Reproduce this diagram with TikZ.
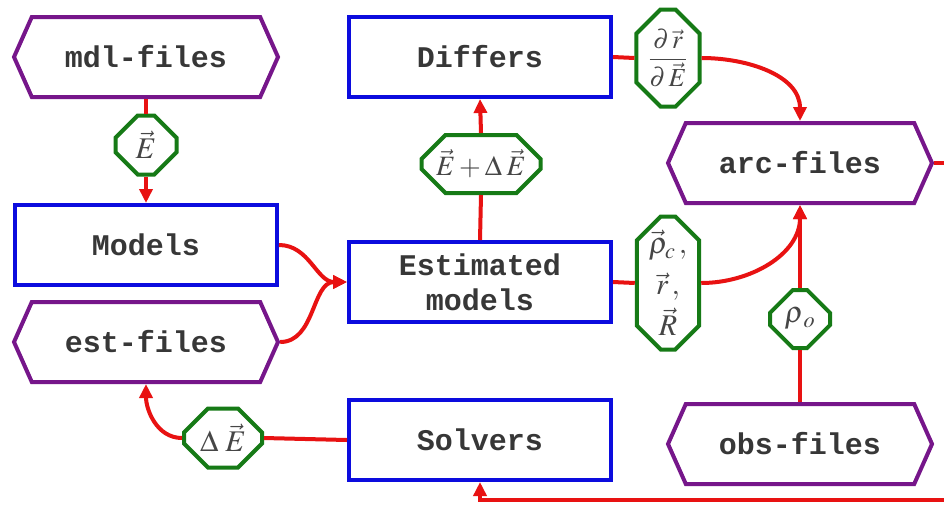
\documentclass[tikz,border=0pt]{standalone}
\usepackage{mathptmx}
\usepackage{fontspec}
\setmonofont{Liberation Mono}
\usetikzlibrary{shapes.symbols,shapes.misc,arrows.meta}
\definecolor{cblue}{RGB}{12,12,222}
\definecolor{cpurple}{RGB}{118,22,138}
\definecolor{cgreen}{RGB}{22,122,22}
\definecolor{cred}{RGB}{232,18,18}
\definecolor{ctext}{RGB}{55,55,55}
\definecolor{cmath}{RGB}{70,70,70}
\begin{document}
\begin{tikzpicture}[x=1pt,y=-1pt,
  box/.style={draw=cblue,line width=4pt,fill=white,minimum width=262pt,minimum height=80pt,inner sep=0pt,
    font=\ttfamily\bfseries\fontsize{30}{35}\selectfont,text=ctext,align=center},
  filebox/.style={signal,signal to=west and east,signal pointer angle=132,draw=cpurple,line width=4pt,fill=white,
    minimum width=264pt,minimum height=80pt,inner sep=0pt,
    font=\ttfamily\bfseries\fontsize{30}{35}\selectfont,text=ctext},
  var/.style={chamfered rectangle,chamfered rectangle xsep=12pt,chamfered rectangle ysep=12pt,
    draw=cgreen,line width=4pt,fill=white,inner sep=0pt,text=cmath,
    font=\fontsize{30}{41}\selectfont,align=center},
  link/.style={draw=cred,line width=4pt},
  arr/.style={link,-{Triangle[length=14pt,width=13pt]}}]
\clip (0,0) rectangle (944,504);
\fill[white] (0,0) rectangle (944,504);
% nodes
\node[filebox] (mdl) at (146,57) {mdl-files};
\node[box] (models) at (146,245) {Models};
\node[filebox] (est) at (146,342) {est-files};
\node[box] (diff) at (480,57) {Differs};
\node[box] (estm) at (480,282) {Estimated\\ models};
\node[box] (solv) at (480,440) {Solvers};
\node[filebox] (arc) at (800,163) {arc-files};
\node[filebox] (obs) at (800,444) {obs-files};
\node[var,minimum width=61pt,minimum height=59pt] (E) at (146,145) {$\vec{E}$};
\node[var,minimum width=119pt,minimum height=58pt,font=\fontsize{28}{34}\selectfont] (EdE) at (481,164) {$\vec{E}+\Delta\mkern3mu\vec{E}$};
\node[var,minimum width=78pt,minimum height=59pt] (dE) at (223,438) {$\Delta\mkern4mu\vec{E}$};
\node[var,minimum width=58pt,minimum height=97pt,font=\fontsize{26}{30}\selectfont] (drdE) at (668,58) {$\displaystyle\frac{\partial\,\vec{r}}{\partial\,\vec{E}}$};
\node[var,minimum width=57pt,minimum height=133pt] (rho) at (668,283) {$\vec{\rho}_{c}\,,$\\ $\vec{r}\,,$\\ $\vec{R}$};
\node[var,minimum width=60pt,minimum height=58pt] (rhoo) at (800,319) {$\rho_{\mkern2mu o}$};
\coordinate (loop) at (956,500);
% connectors
\draw[link] (mdl.south) -- (E.north);
\draw[arr] (E.south) -- (models.north);
\draw[arr] (models.east) to[out=0,in=180] (estm.west);
\draw[arr] (est.east) to[out=0,in=180] (estm.west);
\draw[arr] (dE.west) to[out=180,in=-90] (est.south);
\draw[link] (dE.east) -- (solv.west);
\draw[link] (estm.north) -- (EdE.south);
\draw[arr] (EdE.north) -- (diff.south);
\draw[link] (diff.east) -- (drdE.west);
\draw[arr] (drdE.east) to[out=0,in=90] (arc.north);
\draw[link] (estm.east) -- (rho.west);
\draw[arr] (rho.east) to[out=0,in=-90] (arc.south);
\draw[link] (obs.north) -- (rhoo.south);
\draw[arr] (rhoo.north) -- (arc.south);
\draw[arr] (arc.east) -| (loop) -| (solv.south);
\end{tikzpicture}
\end{document}
